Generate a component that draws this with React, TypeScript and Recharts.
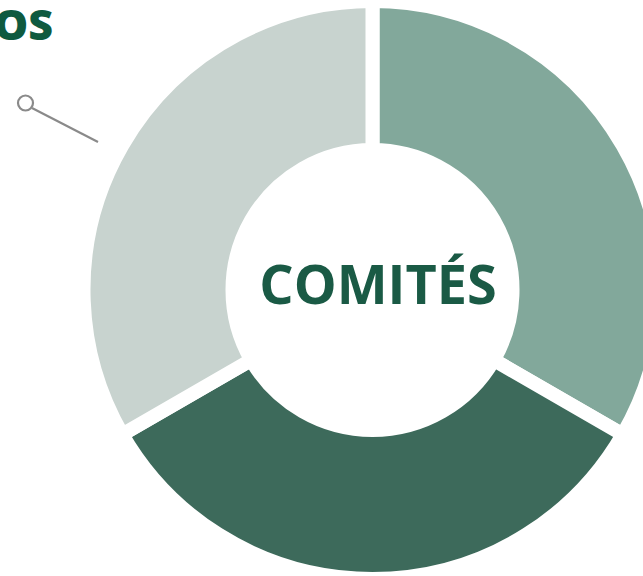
import { PieChart, Pie, Cell } from 'recharts';

const segments = ['A', 'B', 'C'];
const values = [1, 1, 1];
const colors = ['#82a89b', '#3d6a5b', '#c8d3cf'];
const centerTitle = 'COMITÉS';
const sideLabel = 'OS';

const data = segments.map((name, i) => ({ name, value: values[i] }));

export default function App() {
  return (
    <div style={{ position: 'fixed', left: 0, top: 0, width: 643, height: 576, background: '#fff' }}>
      <PieChart width={643} height={576} margin={{ top: 0, right: 0, bottom: 0, left: 0 }}>
        <Pie
          data={data}
          dataKey="value"
          nameKey="name"
          cx={372.5}
          cy={290}
          outerRadius={289}
          innerRadius={140}
          startAngle={90}
          endAngle={-270}
          stroke="#ffffff"
          strokeWidth={14}
          isAnimationActive={false}
        >
          {data.map((d, i) => (
            <Cell key={d.name} fill={colors[i]} />
          ))}
        </Pie>
        <text
          x={378}
          y={304}
          textAnchor="middle"
          fill="#1a5a45"
          style={{ fontFamily: '"Open Sans", sans-serif', fontWeight: 700, fontSize: 54 }}
        >
          {centerTitle}
        </text>
        <text
          x={53}
          y={40}
          textAnchor="end"
          fill="#0f5a3f"
          style={{ fontFamily: '"Open Sans", sans-serif', fontWeight: 800, fontSize: 43 }}
        >
          {sideLabel}
        </text>
        <line x1={32} y1={108} x2={98} y2={142} stroke="#8a8a8a" strokeWidth={2.2} />
        <circle cx={25.5} cy={103} r={7.5} fill="#ffffff" stroke="#8a8a8a" strokeWidth={2.2} />
      </PieChart>
    </div>
  );
}
